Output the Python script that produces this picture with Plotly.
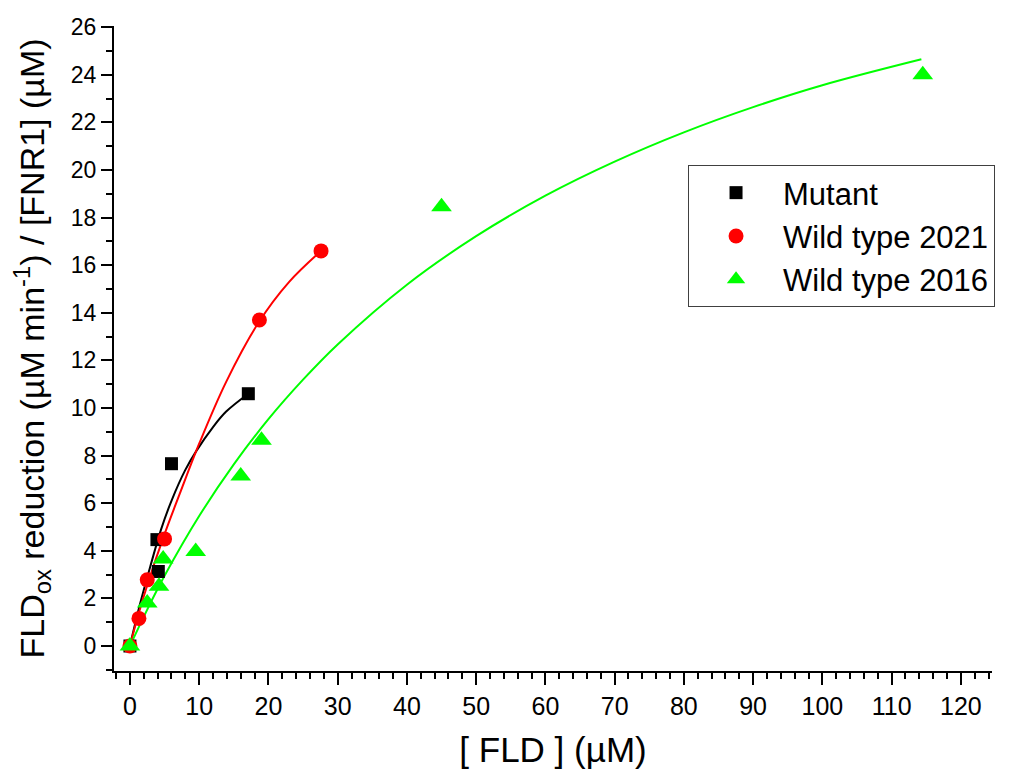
import plotly.graph_objects as go

# ---- data ----
mutant_x = [0, 3.9, 4.1, 6.0, 17.1]
mutant_y = [0, 4.47, 3.13, 7.66, 10.6]

wt2021_x = [0, 1.3, 2.5, 5.0, 18.7, 27.6]
wt2021_y = [0, 1.16, 2.78, 4.5, 13.7, 16.6]

wt2016_x = [0, 2.5, 4.2, 4.8, 9.5, 16.0, 19.0, 45.0, 114.5]
wt2016_y = [0, 1.81, 2.51, 3.66, 3.97, 7.14, 8.64, 18.46, 24.0]

# fitted curves
fit_mut_x = [0, 1.4, 2.9, 4.5, 6.0, 8.0, 9.6, 12.0, 13.9, 17.1]
fit_mut_y = [0, 1.7, 3.3, 4.9, 6.1, 7.4, 8.2, 9.2, 9.85, 10.6]

fit_21_x = [0, 1.2, 2.6, 5.0, 7.2, 10.0, 13.9, 18.6, 23.0, 27.6]
fit_21_y = [0, 1.3, 2.65, 4.7, 6.4, 8.5, 11.1, 13.6, 15.3, 16.6]

fit_16_x = [0, 2.5, 5, 10, 15, 20, 25, 30, 40, 50, 60, 70, 80, 90, 100, 114.3]
fit_16_y = [0, 1.53, 2.95, 5.46, 7.63, 9.53, 11.19, 12.67, 15.18, 17.22,
            18.92, 20.35, 21.58, 22.64, 23.56, 24.65]

x_ticks = list(range(0, 121, 10))
y_ticks = list(range(0, 27, 2))

BLACK, RED, GREEN = "#000000", "#FF0000", "#00FF00"
FONT = "Liberation Sans, Arial, sans-serif"
NARROW = "Liberation Sans Narrow, Arial Narrow, Liberation Sans, Arial, sans-serif"

fig = go.Figure()

for fx, fy, col in [(fit_mut_x, fit_mut_y, BLACK),
                    (fit_21_x, fit_21_y, RED),
                    (fit_16_x, fit_16_y, GREEN)]:
    fig.add_trace(go.Scatter(x=fx, y=fy, mode="lines", showlegend=False,
                             line=dict(color=col, width=2, shape="spline"),
                             hoverinfo="skip"))

fig.add_trace(go.Scatter(x=mutant_x, y=mutant_y, mode="markers", name="Mutant",
                         marker=dict(symbol="square", size=13, color=BLACK)))
fig.add_trace(go.Scatter(x=wt2021_x, y=wt2021_y, mode="markers", name="Wild type 2021",
                         marker=dict(symbol="circle", size=15, color=RED)))
fig.add_trace(go.Scatter(x=wt2016_x, y=wt2016_y, mode="markers", name="Wild type 2016",
                         marker=dict(symbol="triangle-up", size=18, color=GREEN)))

fig.update_layout(
    width=1009, height=776,
    margin=dict(l=106, r=25, t=18, b=113),
    paper_bgcolor="white", plot_bgcolor="white",
    font=dict(family=FONT, color="black"),
    legend=dict(x=0.6538, y=0.7845, xanchor="left", yanchor="top",
                bordercolor="#404040", borderwidth=1, bgcolor="white",
                font=dict(family=FONT, size=31, color="black"),
                itemwidth=84),
    xaxis=dict(range=[-2.3, 124.5], tickvals=x_ticks, ticktext=[str(v) for v in x_ticks],
               automargin=False,
               showgrid=False, zeroline=False, showline=True, linecolor="black",
               linewidth=2, ticks="outside", ticklen=12, tickwidth=2, tickcolor="black",
               minor=dict(dtick=2, tick0=0, ticks="outside", ticklen=6, tickwidth=2,
                          tickcolor="black", showgrid=False),
               tickfont=dict(family=NARROW, size=25),
               title=dict(text="[ FLD ] (µM)", font=dict(family=NARROW, size=35),
                          standoff=18)),
    yaxis=dict(range=[-1.05, 26.05], tickvals=y_ticks, ticktext=[str(v) for v in y_ticks],
               automargin=False,
               showgrid=False, zeroline=False, showline=True, linecolor="black",
               linewidth=2, ticks="outside", ticklen=11, tickwidth=2, tickcolor="black",
               minor=dict(dtick=1, tick0=0, ticks="outside", ticklen=6, tickwidth=2,
                          tickcolor="black", showgrid=False),
               tickfont=dict(family=FONT, size=23),
               title=dict(text="FLD<sub>ox</sub> reduction (µM min<sup>-1</sup>) / [FNR1] (µM)",
                          font=dict(family=FONT, size=34), standoff=27)),
)

fig.write_html("out.html")
